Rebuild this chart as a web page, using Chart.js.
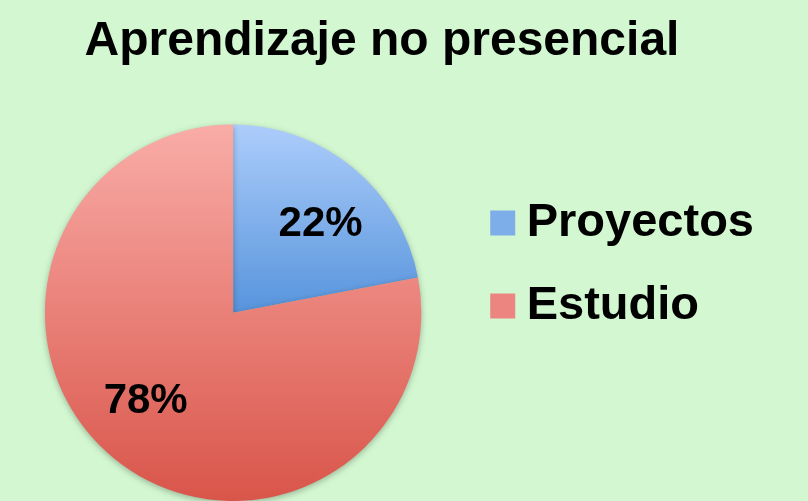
<!DOCTYPE html>
<html>
<head>
<meta charset="utf-8">
<script src="https://cdn.jsdelivr.net/npm/chart.js@4"></script>
<style>
  html, body { margin: 0; padding: 0; background: #d3f8d1; }
  canvas { display: block; }
</style>
</head>
<body>
<canvas id="chart" width="808" height="501"></canvas>
<script>
    "use strict";

    const TITLE = "Aprendizaje no presencial";
    const LABELS = ["Proyectos", "Estudio"];
    const VALUES = [22, 78];
    // top / bottom colours of each slice gradient
    const TOP_COLORS = ["#adcdfb", "#f9aca7"];
    const BOTTOM_COLORS = ["#5794dc", "#d9554a"];
    const LEGEND_COLORS = ["#7eaeea", "#ec8580"];

    const FONT = "'Liberation Sans', Arial, Helvetica, sans-serif";

    // slice gradient, blue runs top -> centre, red top -> bottom
    const sliceFill = (context) => {
        const chart = context.chart;
        const area = chart.chartArea;
        if (!area) {
            return TOP_COLORS[context.dataIndex];
        }
        const i = context.dataIndex;
        const bottom = i === 0 ? (area.top + area.bottom) / 2 : area.bottom;
        const g = chart.ctx.createLinearGradient(0, area.top, 0, bottom);
        g.addColorStop(0, TOP_COLORS[i]);
        g.addColorStop(1, BOTTOM_COLORS[i]);
        return g;
    };

    // soft shadow under the pie
    const shadowPlugin = {
        id: "pieShadow",
        beforeDatasetsDraw: (chart) => {
            const { ctx } = chart;
            ctx.save();
            ctx.shadowColor = "rgba(0, 0, 0, 0.28)";
            ctx.shadowBlur = 6;
            ctx.shadowOffsetY = 2;
        },
        afterDatasetsDraw: (chart) => {
            chart.ctx.restore();
        }
    };

    // percent labels inside the slices
    const percentPlugin = {
        id: "percentLabels",
        afterDatasetsDraw: (chart) => {
            const { ctx } = chart;
            const meta = chart.getDatasetMeta(0);
            const data = chart.data.datasets[0].data;
            const total = data.reduce((a, b) => a + b, 0);
            ctx.save();
            ctx.font = "bold 42px " + FONT;
            ctx.fillStyle = "#000";
            ctx.textAlign = "center";
            ctx.textBaseline = "middle";
            meta.data.forEach((arc, i) => {
                const { x, y, startAngle, endAngle, outerRadius } = arc.getProps(["x", "y", "startAngle", "endAngle", "outerRadius"], true);
                // labels sit a little clockwise of the slice middle
                const mid = (startAngle + endAngle) / 2 + 0.09;
                const r = outerRadius * 0.66;
                const text = Math.round(data[i] / total * 100) + "%";
                ctx.fillText(text, x + Math.cos(mid) * r, y + Math.sin(mid) * r);
            });
            ctx.restore();
        }
    };

    const ctx = document.getElementById("chart").getContext("2d");

    new Chart(ctx, {
        type: "pie",
        data: {
            labels: LABELS,
            datasets: [{
                data: VALUES,
                backgroundColor: sliceFill,
                borderWidth: 0
            }]
        },
        options: {
            responsive: false,
            animation: false,
            devicePixelRatio: 1,
            layout: {
                padding: { left: 0, right: 44, top: 0, bottom: 0 }
            },
            plugins: {
                tooltip: { enabled: false },
                title: {
                    display: true,
                    text: TITLE,
                    color: "#000",
                    font: { family: FONT, size: 48, weight: "bold", lineHeight: 1.2 },
                    padding: { top: 13, bottom: 54 }
                },
                legend: {
                    display: true,
                    position: "right",
                    align: "center",
                    title: {
                        display: true,
                        text: "",
                        font: { size: 10, lineHeight: 1 },
                        padding: { top: 18, bottom: 0 }
                    },
                    labels: {
                        color: "#000",
                        font: { family: FONT, size: 47, weight: "bold" },
                        usePointStyle: true,
                        pointStyle: "rect",
                        boxWidth: 1,
                        boxHeight: 25,
                        padding: 36,
                        generateLabels: (chart) => chart.data.labels.map((label, i) => ({
                            text: label,
                            fillStyle: LEGEND_COLORS[i],
                            strokeStyle: LEGEND_COLORS[i],
                            fontColor: "#000",
                            lineWidth: 0,
                            pointStyle: "rect",
                            hidden: false,
                            index: i
                        }))
                    }
                }
            }
        },
        plugins: [shadowPlugin, percentPlugin]
    });
</script>
</body>
</html>
